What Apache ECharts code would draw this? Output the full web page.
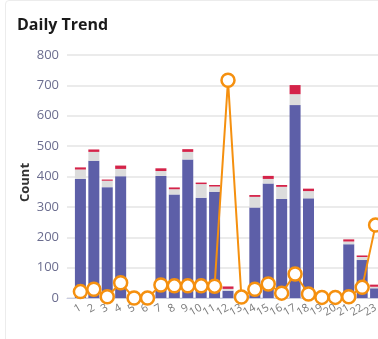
<!DOCTYPE html>
<html>
<head>
<meta charset="utf-8">
<script src="https://cdn.jsdelivr.net/npm/echarts@6/dist/echarts.min.js"></script>
<style>
html,body{margin:0;padding:0;overflow:hidden;background:#fff;width:378px;height:339px;}
#card{position:absolute;left:5px;top:0px;width:420px;height:360px;border:1px solid #ececec;border-radius:4px;box-sizing:border-box;}
#chart{position:absolute;left:0;top:0;width:400px;height:339px;}
</style>
</head>
<body>
<div id="card"></div>
<div id="chart"></div>
<script>
const days = ['1','2','3','4','5','6','7','8','9','10','11','12','13','14','15','16','17','18','19','20','21','22','23'];
const primary = [392,452,365,401,0,0,402,341,456,330,350,24,0,298,377,326,635,328,0,0,177,125,32];
const secondary = [31,29,21,24,0,0,16,17,25,45,17,6,0,35,15,40,36,24,0,0,9,10,5];
const critical = [7,8,4,11,0,0,9,6,9,5,5,8,0,6,10,6,30,8,0,0,7,5,7];
const trend = [21,29,4,50,0,0,43,40,40,40,39,717,3,29,46,16,79,13,2,2,4,35,240];
const yTicks = [0,100,200,300,400,500,600,700,800];

// padded category axis (blank slot before day 1 and after day 23)
const cats = [''].concat(days, ['']);
const pad = arr => [null].concat(arr, [null]);

const chart = echarts.init(document.getElementById('chart'));
const barBase = {type:'bar', stack:'total', barWidth:11, emphasis:{disabled:true}};
chart.setOption({
  animation:false,
  title:{text:'Daily Trend', left:12, top:12, textStyle:{fontFamily:'Open Sans', fontSize:16, fontWeight:'bold', color:'#1a1a1a'}},
  grid:{left:67, right:11, top:55, bottom:41},
  xAxis:{type:'category', data:cats, boundaryGap:false,
    splitLine:{show:false},
    axisLine:{show:true, lineStyle:{color:'#c9cce0', width:1}},
    axisTick:{show:false},
    axisLabel:{rotate:30, margin:9, fontSize:11, color:'#7a7a7a', fontFamily:'Open Sans', interval:0}
  },
  yAxis:{type:'value', min:yTicks[0], max:yTicks[yTicks.length-1], interval:100,
    name:'Count', nameLocation:'middle', nameGap:35, nameMoveOverlap:false,
    nameTextStyle:{fontFamily:'Open Sans', fontSize:13, fontWeight:'bold', color:'#333', padding:[0,12,0,0]},
    axisLine:{show:false}, axisTick:{show:false},
    axisLabel:{fontSize:13, color:'#6b6d8f', fontFamily:'Open Sans', margin:8},
    splitLine:{lineStyle:{color:'#e4e4e4', width:1.5}}
  },
  series:[
    Object.assign({}, barBase, {name:'primary', data:pad(primary), itemStyle:{color:'#5d5fa8'}}),
    Object.assign({}, barBase, {name:'secondary', data:pad(secondary), itemStyle:{color:'#dcdcdc'}}),
    Object.assign({}, barBase, {name:'critical', data:pad(critical), itemStyle:{color:'#d42349'}}),
    {type:'line', name:'trend', data:pad(trend), symbol:'circle', symbolSize:13,
     lineStyle:{color:'#f5900f', width:2}, itemStyle:{color:'#fff', borderColor:'#f5900f', borderWidth:2.5},
     emphasis:{disabled:true}, z:5}
  ]
});
</script>
</body>
</html>
